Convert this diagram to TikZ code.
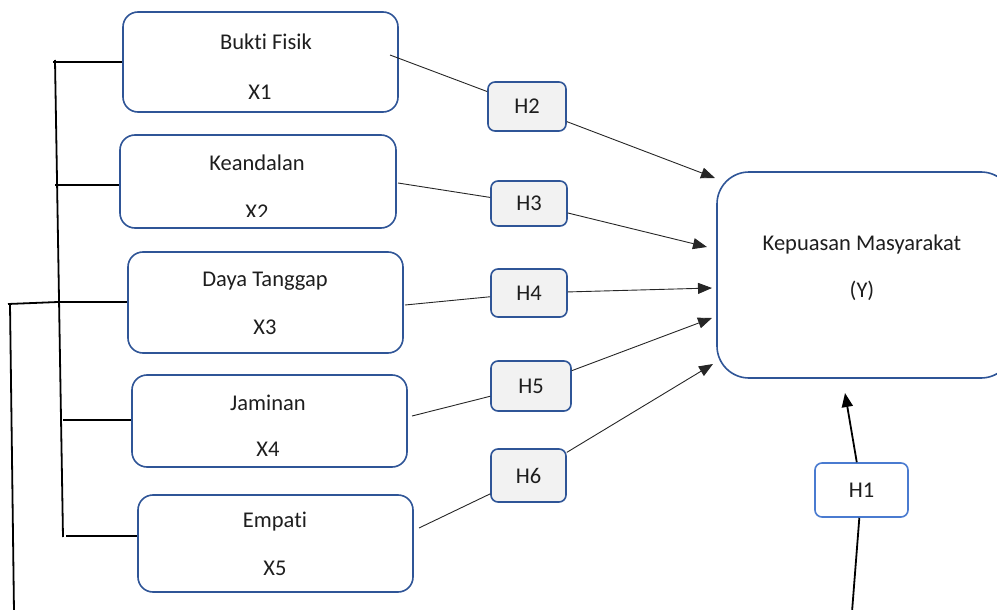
\documentclass[tikz,border=0pt]{standalone}
\usepackage{fontspec}
\setmainfont{Carlito}[Ligatures={NoCommon}]
\usetikzlibrary{arrows.meta}
\definecolor{boxblue}{HTML}{2F5597}
\definecolor{lightblue}{HTML}{4A7BD0}
\definecolor{hfill}{HTML}{F2F2F2}
\definecolor{txt}{HTML}{1E1E1E}
\tikzset{
  varbox/.style={draw=boxblue, line width=1.6pt, rounded corners=15pt, fill=white, inner sep=0pt},
  hbox/.style={draw=boxblue, line width=1.6pt, rounded corners=7pt, fill=hfill, inner sep=0pt, font=\fontsize{22.5}{26}\selectfont, text=txt},
  lbl/.style={font=\fontsize{22.5}{26}\selectfont, text=txt, inner sep=0pt},
  conn/.style={draw=black!85, line width=0.9pt},
  arr/.style={conn, -{Triangle[length=14pt,width=11pt]}},
  brack/.style={draw=black, line width=1.8pt},
}
\begin{document}
\begin{tikzpicture}[x=1pt,y=-1pt]
\useasboundingbox (0,0) rectangle (997,610);

% variable boxes
\node[varbox, minimum width=275pt, minimum height=100pt] (B1) at (260.5,62) {};
\node[varbox, minimum width=276pt, minimum height=93pt] (B2) at (258,181.5) {};
\node[varbox, minimum width=275pt, minimum height=101pt] (B3) at (265.5,302.5) {};
\node[varbox, minimum width=275pt, minimum height=92pt] (B4) at (269.5,421) {};
\node[varbox, minimum width=275pt, minimum height=97pt] (B5) at (275.5,543.5) {};

\node[lbl] (t1a) at (266,42) {Bukti Fisik};
\node[lbl] (t1b) at (260,92) {X1};
\node[lbl] (t2a) at (257,163) {Keandalan};
\begin{scope}
  \clip (120,135) rectangle (396,216.5);
  \node[lbl] (t2b) at (257,212) {X2};
\end{scope}
\node[lbl] (t3a) at (265,281) {Daya Tanggap};
\node[lbl] (t3b) at (265,327) {X3};
\node[lbl] (t4a) at (268,403) {Jaminan};
\node[lbl] (t4b) at (268,449) {X4};
\node[lbl] (t5a) at (275,522) {Empati};
\node[lbl] (t5b) at (275,568) {X5};

% dependent variable box
\node[draw=boxblue, line width=1.6pt, rounded corners=32pt, fill=white,
      minimum width=296pt, minimum height=206pt, inner sep=0pt] (Y) at (865,275) {};
\node[lbl] (ty1) at (862,245) {Kepuasan Masyarakat};
\node[lbl] (ty2) at (862,291) {(Y)};

% hypothesis boxes
\node[hbox, minimum width=78pt, minimum height=49pt] (H2) at (527,106.5) {H2};
\node[hbox, minimum width=76pt, minimum height=45pt] (H3) at (529,203.5) {H3};
\node[hbox, minimum width=76pt, minimum height=48pt] (H4) at (529,293) {H4};
\node[hbox, minimum width=80pt, minimum height=50pt] (H5) at (531,386) {H5};
\node[hbox, minimum width=75pt, minimum height=53pt] (H6) at (528.5,475.5) {H6};
\node[hbox, draw=lightblue, fill=white, minimum width=93pt, minimum height=54pt] (H1) at (861.5,490) {H1};

% connector end points
\coordinate (s2) at (390,55);
\coordinate (s3) at (398,183);
\coordinate (s4) at (405,305);
\coordinate (s5) at (412,416);
\coordinate (s6) at (419,528);
\coordinate (e2) at (715,178);
\coordinate (e3) at (707,247);
\coordinate (e4) at (712,288);
\coordinate (e5) at (712,318);
\coordinate (e6) at (713,364);
\coordinate (h1s) at (852,612);
\coordinate (h1e) at (845,393);

\draw[conn] (s2) -- (H2);
\draw[arr] (H2) -- (e2);
\draw[conn] (s3) -- (H3);
\draw[arr] (H3) -- (e3);
\draw[conn] (s4) -- (H4);
\draw[arr] (H4) -- (e4);
\draw[conn] (s5) -- (H5);
\draw[arr] (H5) -- (e5);
\draw[conn] (s6) -- (H6);
\draw[arr] (H6) -- (e6);

\draw[brack] (h1s) -- (H1);
\draw[brack, -{Triangle[length=14pt,width=11pt]}] (H1) -- (h1e);

% left bracket
\coordinate (l1) at (53,62);
\coordinate (l2) at (55,185);
\coordinate (l3) at (58,302);
\coordinate (l4) at (63,420);
\coordinate (l5) at (66,536);
\coordinate (v1) at (55,60);
\coordinate (v2) at (63,537);
\draw[brack] (v1) -- (v2);
\draw[brack] (l1) -- (l1 -| B1.west);
\draw[brack] (l2) -- (l2 -| B2.west);
\draw[brack] (l3) -- (l3 -| B3.west);
\draw[brack] (l4) -- (l4 -| B4.west);
\draw[brack] (l5) -- (l5 -| B5.west);
\coordinate (o1) at (8,304);
\coordinate (o2) at (10,304);
\coordinate (o3) at (14,612);
\draw[brack] (o1) -- (l3);
\draw[brack] (o2) -- (o3);
\end{tikzpicture}
\end{document}
